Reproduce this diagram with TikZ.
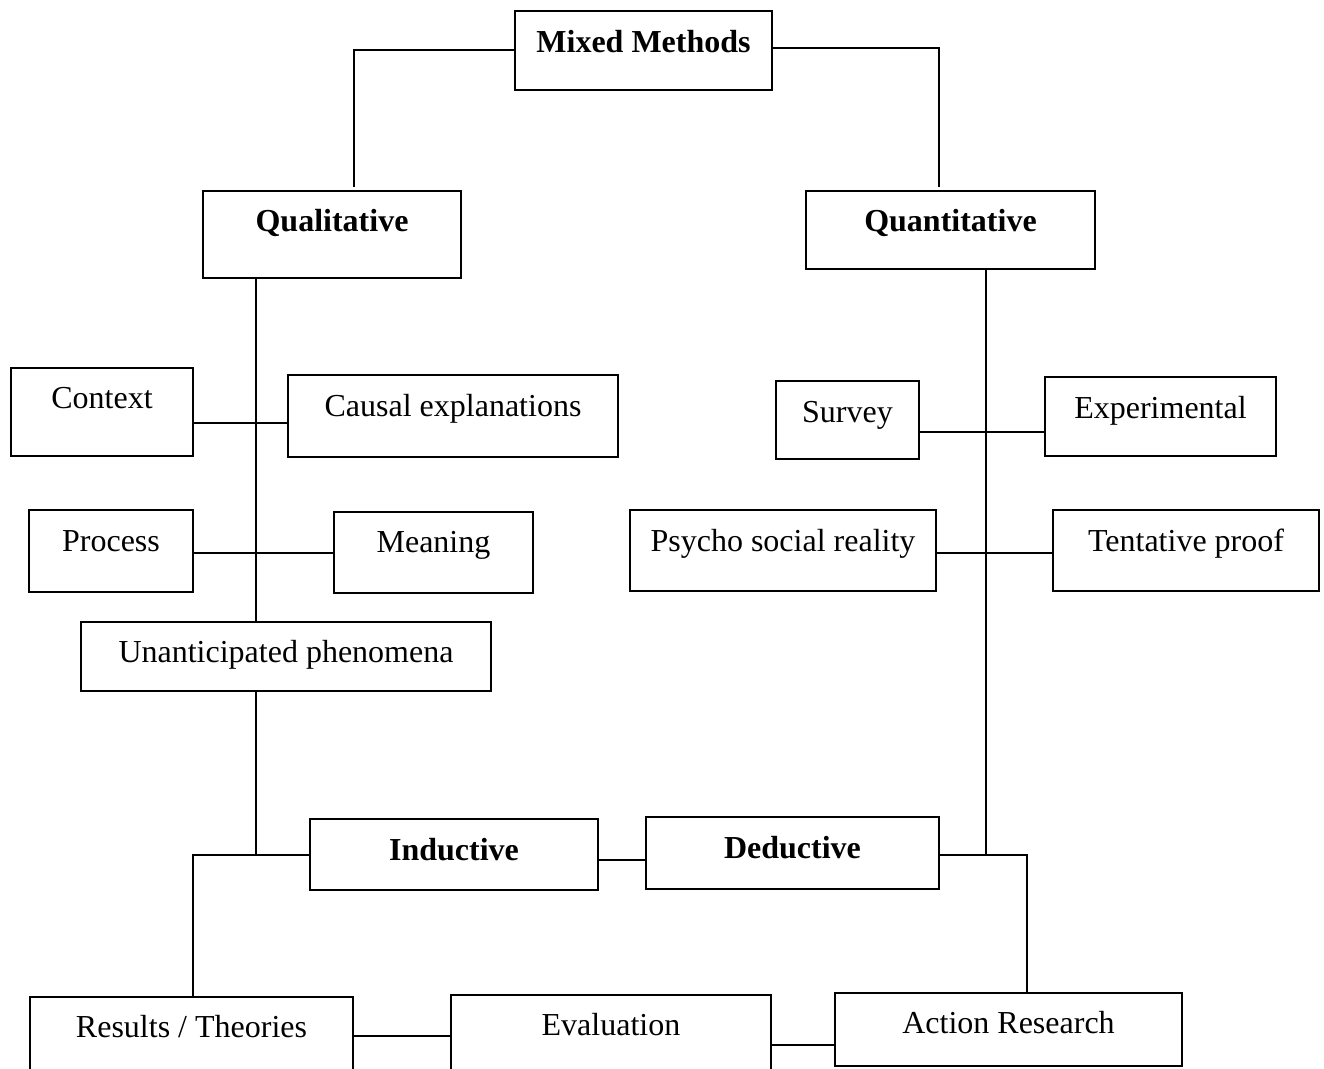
\documentclass[tikz,border=0pt]{standalone}
\usepackage{fontspec}
\setmainfont{Liberation Serif}
\begin{document}
\begin{tikzpicture}[x=1pt,y=-1pt,
  box/.style={draw, line width=2pt, rectangle, inner sep=0pt, outer sep=0pt},
  lbl/.style={inner sep=0pt, anchor=base, font=\fontsize{32}{38}\selectfont},
  blbl/.style={lbl, font=\fontsize{32}{38}\selectfont\bfseries},
  link/.style={line width=2pt}]
\useasboundingbox (0,0) rectangle (1324,1068);
\clip (0,0) rectangle (1324,1068);

% box: name, x1, y1, x2, y2, baseline, style, text
\newcommand\cbox[8]{%
  \node[box, minimum width={(#4-#2)*1pt}, minimum height={(#5-#3)*1pt}]
    (#1) at ({(#2+#4)/2},{(#3+#5)/2}) {};
  \node[#7] (#1-t) at ({(#2+#4)/2},#6) {#8};
}

% top level
\cbox{mixed}{515}{11}{772}{90}{52}{blbl}{Mixed Methods}
\cbox{qual}{203}{191}{461}{278}{231}{blbl}{Qualitative}
\cbox{quant}{806}{191}{1095}{269}{231}{blbl}{Quantitative}

% qualitative branch
\cbox{context}{11}{368}{193}{456}{408}{lbl}{Context}
\cbox{causal}{288}{375}{618}{457}{416}{lbl}{Causal explanations}
\cbox{process}{29}{510}{193}{592}{551}{lbl}{Process}
\cbox{meaning}{334}{512}{533}{593}{552}{lbl}{Meaning}
\cbox{unant}{81}{622}{491}{691}{662}{lbl}{Unanticipated phenomena}

% quantitative branch
\cbox{survey}{776}{381}{919}{459}{422}{lbl}{Survey}
\cbox{exper}{1045}{377}{1276}{456}{418}{lbl}{Experimental}
\cbox{psycho}{630}{510}{936}{591}{551}{lbl}{Psycho social reality}
\cbox{tent}{1053}{510}{1319}{591}{551}{lbl}{Tentative proof}

% reasoning
\cbox{induct}{310}{819}{598}{890}{860}{blbl}{Inductive}
\cbox{deduct}{646}{817}{939}{889}{858}{blbl}{Deductive}

% outcomes (run past the lower edge)
\cbox{results}{30}{997}{353}{1100}{1037}{lbl}{Results / Theories}
\cbox{evalu}{451}{995}{771}{1100}{1035}{lbl}{Evaluation}
\cbox{action}{835}{993}{1182}{1066}{1033}{lbl}{Action Research}

% junction points
\coordinate (mmL) at (354,187);
\coordinate (mmR) at (939,187);
\coordinate (qlS) at (256,855);
\coordinate (qnS) at (986,855);
\coordinate (dR) at (1027,855);

% connectors
\draw[link] (mixed.west |- 0,50) -| (mmL);
\draw[link] (mixed.east |- 0,48) -| (mmR);

\draw[link] (qual.south -| 256,0) -- (unant.north -| 256,0);
\draw[link] (unant.south -| 256,0) -- (qlS);
\draw[link] (context.east |- 0,423) -- (causal.west |- 0,423);
\draw[link] (process.east |- 0,553) -- (meaning.west |- 0,553);

\draw[link] (quant.south -| 986,0) -- (qnS);
\draw[link] (survey.east |- 0,432) -- (exper.west |- 0,432);
\draw[link] (psycho.east |- 0,553) -- (tent.west |- 0,553);

\draw[link] (induct.west |- 0,855) -| (results.north -| 193,0);
\draw[link] (induct.east |- 0,860) -- (deduct.west |- 0,860);
\draw[link] (deduct.east |- 0,855) -- (dR) -- (action.north -| 1027,0);

\draw[link] (results.east |- 0,1036) -- (evalu.west |- 0,1036);
\draw[link] (evalu.east |- 0,1045) -- (action.west |- 0,1045);
\end{tikzpicture}
\end{document}
